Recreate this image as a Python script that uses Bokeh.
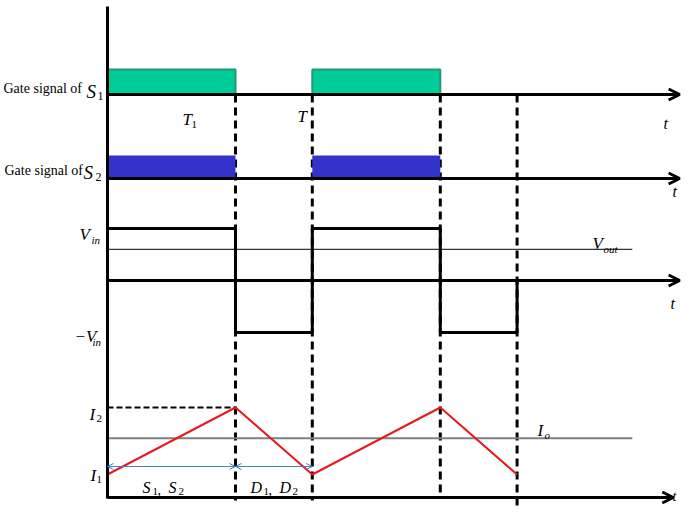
from bokeh.plotting import figure
from bokeh.models import Range1d, Arrow, OpenHead
from bokeh.core.properties import value
from bokeh.embed import file_html
from bokeh.resources import INLINE

# ---------------- data ----------------
T1 = 1.0                       # switch on-time
T = 1.6                        # switching period
gate_on_start = [0.0, T]
gate_on_end = [T1, T + T1]
dash_times = [T1, T, T + T1, 2 * T]

v_times = [0.0, T1, T1, T, T, T + T1, T + T1, 2 * T, 2 * T]
v_levels = [1, 1, -1, -1, 1, 1, -1, -1, 0]      # in units of Vin
Vout = 0.6                                       # in units of Vin

i_times = [0.0, T1, T, T + T1, 2 * T]
I1, I2 = 1.0, 2.0
i_levels = [I1, I2, I1, I2, I1]
Io = 1.54
t_end = 4.47                  # arrow tip of time axes
t_end_bottom = 4.42           # arrow tip of the current panel's time axis
t_ref_end = 4.10              # end of Vout / Io reference lines

# ---------------- layout helpers ----------------
PX = 128.0                    # pixels per time unit
X0 = 107.0                    # pixel x of t = 0
W, H = 681, 508


def X(rx):
    return (rx - X0) / PX


def Y(ry):
    return H - ry


def vy(v):
    return Y(280 - v * 52)


def iy(i):
    return Y(474 - (i - I1) * 67)


p = figure(width=W, height=H, output_backend="svg", toolbar_location=None,
           x_range=Range1d(X(0), X(W)), y_range=Range1d(0, H),
           min_border=0, min_border_left=0, min_border_right=0,
           min_border_top=0, min_border_bottom=0)
p.xaxis.visible = False
p.yaxis.visible = False
p.xgrid.visible = False
p.ygrid.visible = False
p.outline_line_color = None
p.background_fill_color = "white"
p.border_fill_color = "white"

SERIF = value("Liberation Serif")

# dashed switching lines
dash_bottom = [500, 500, 497, 515]
for tt, yb in zip(dash_times, dash_bottom):
    p.line([tt, tt], [Y(94), Y(yb)], line_color="black", line_width=3, line_dash="8 5")

# gate signals
gates = [(94, 25, "#00CC99", "#1f9a74", 2), (178, 23, "#3333CC", None, 0)]
for base, h, fill, edge, lw in gates:
    p.quad(left=gate_on_start, right=gate_on_end,
           bottom=[Y(base)] * 2, top=[Y(base - h)] * 2,
           fill_color=fill, line_color=edge, line_width=lw)
    p.add_layout(Arrow(end=OpenHead(size=11, line_width=3, line_color="black"),
                       x_start=0, y_start=Y(base), x_end=t_end, y_end=Y(base),
                       line_width=3, line_color="black"))

# voltage panel
p.add_layout(Arrow(end=OpenHead(size=11, line_width=3, line_color="black"),
                   x_start=0, y_start=vy(0), x_end=t_end, y_end=vy(0),
                   line_width=3, line_color="black"))
p.line([0, t_ref_end], [vy(Vout)] * 2, line_color="black", line_width=1)
p.line(v_times, [vy(v) for v in v_levels], line_color="black", line_width=3)

# current panel
p.add_layout(Arrow(end=OpenHead(size=11, line_width=3, line_color="black"),
                   x_start=0, y_start=Y(497), x_end=t_end_bottom, y_end=Y(497),
                   line_width=3, line_color="black"))
p.line([0, t_ref_end], [iy(Io)] * 2, line_color="#808080", line_width=2)
p.line([0, T1], [iy(I2)] * 2, line_color="black", line_width=2, line_dash="6 3")
p.line(i_times, [iy(i) for i in i_levels], line_color="#E8191C", line_width=2)

# interval arrows
for a, b in [(0, T1), (T1, T)]:
    p.add_layout(Arrow(start=OpenHead(size=6, line_width=1, line_color="#3D85C6"),
                       end=OpenHead(size=6, line_width=1, line_color="#3D85C6"),
                       x_start=a, y_start=Y(466), x_end=b, y_end=Y(466),
                       line_width=1, line_color="#3D85C6"))

# vertical axis
p.line([0, 0], [Y(6), Y(498)], line_color="black", line_width=3)


def txt(rx, ry, s, size, italic=True):
    p.text(x=[X(rx)], y=[Y(ry)], text=[s], text_font=SERIF,
           text_font_size=f"{size}px",
           text_font_style="italic" if italic else "normal",
           text_baseline="alphabetic", text_align="left", text_color="black")


# gate labels
txt(3, 88, "Gate signal of", 14, italic=False)
txt(86, 91, "S", 19)
txt(97, 95, "1", 12, italic=False)
txt(4, 170, "Gate signal of", 14, italic=False)
txt(83, 172, "S", 19)
txt(95, 176, "2", 12, italic=False)

txt(182, 119, "T", 17)
txt(191, 124, "1", 11, italic=False)
txt(297, 116, "T", 17)

# t labels
txt(663, 123, "t", 16)
txt(672, 191, "t", 16)
txt(670, 303, "t", 16)
txt(672, 496, "t", 14)

# voltage labels
txt(79, 234, "V", 17)
txt(91, 239, "in", 11)
txt(74, 336, "\u2212V", 17)
txt(92, 341, "in", 11)
txt(592, 243, "V", 17)
txt(603, 248, "out", 11)

# current labels
txt(89, 414, "I", 17)
txt(96, 418, "2", 11, italic=False)
txt(90, 475, "I", 17)
txt(96, 479, "1", 11, italic=False)
txt(537, 430, "I", 17)
txt(544, 434, "o", 11)

# interval labels
txt(142, 487, "S", 16)
txt(152, 491, "1", 11, italic=False)
txt(157, 489, ",", 14, italic=False)
txt(168, 487, "S", 16)
txt(178, 491, "2", 11, italic=False)
txt(250, 487, "D", 16)
txt(263, 491, "1", 11, italic=False)
txt(268, 489, ",", 14, italic=False)
txt(279, 487, "D", 16)
txt(292, 491, "2", 11, italic=False)

open("out.html", "w").write(file_html(p, INLINE))
